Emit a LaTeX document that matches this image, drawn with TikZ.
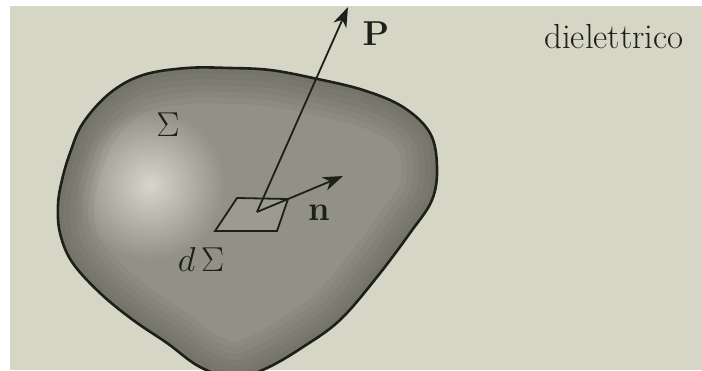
\documentclass[tikz,border=0pt]{standalone}
\usepackage{amsmath}
\usetikzlibrary{arrows.meta}
\definecolor{paper}{RGB}{214,214,198}
\definecolor{blobmid}{RGB}{145,145,133}
\definecolor{blobhi}{RGB}{214,214,202}
\definecolor{blobrim}{RGB}{70,70,62}
\definecolor{ink}{RGB}{30,30,26}

% outline of the surface
\newcommand{\blobshape}{plot[smooth cycle, tension=0.6] coordinates {
  (187,68) (230,68) (270,70) (313,78) (363,90) (403,107) (430,133)
  (437,167) (432,200) (410,233) (377,277) (340,320) (303,347) (267,368)
  (235,378) (200,367) (167,343) (133,320) (100,293) (72,262) (60,233)
  (58,205) (62,180) (70,153) (83,123) (110,93) (143,75)}}

\begin{document}
\begin{tikzpicture}[x=0.5pt, y=-0.5pt,
    outline/.style={draw=ink, line width=1.3pt},
    vec/.style={draw=ink, line width=0.9pt, -{Stealth[length=10pt, width=7pt, inset=3pt]}},
    lbl/.style={inner sep=0pt, text=ink, font=\fontsize{18}{20}\selectfont},
    lbltext/.style={inner sep=0pt, text=ink, font=\fontsize{17.4}{20}\selectfont}
]
\useasboundingbox (0,0) rectangle (702,370);
\clip (0,0) rectangle (702,370);
\fill[white] (0,0) rectangle (702,370);
\fill[paper] (10,6) rectangle (702,370);

% Surface
\fill[blobmid] \blobshape;
\begin{scope}
    \clip \blobshape;
    \shade[inner color=blobhi, outer color=blobmid] (150,185) circle (75);
    \foreach \w in {36,30,24,18,12,6}
        \draw[blobrim, line width=\w pt, opacity=0.07] \blobshape;
\end{scope}
\draw[outline] \blobshape;

% Surface element
\draw[ink, line width=0.9pt, fill=blobmid!85!paper] (215,231) -- (277,231) -- (288,199) -- (237,198) -- cycle;

% Vectors
\coordinate (foot) at (257,212);
\coordinate (Ptip) at (348,7);
\coordinate (ntip) at (343,176);
\draw[vec] (foot) -- (Ptip);
\draw[vec] (foot) -- (ntip);

% Labels
\node[lbl] (Plabel) at (376,34) {$\mathbf{P}$};
\node[lbl] (nlabel) at (319,213) {$\mathbf{n}$};
\node[lbl] (Sigma) at (168,125) {$\Sigma$};
\node[lbl] (dSigma) at (201,259) {$d\,\Sigma$};
\node[lbltext] (dielettrico) at (614,37) {dielettrico};

\end{tikzpicture}
\end{document}
